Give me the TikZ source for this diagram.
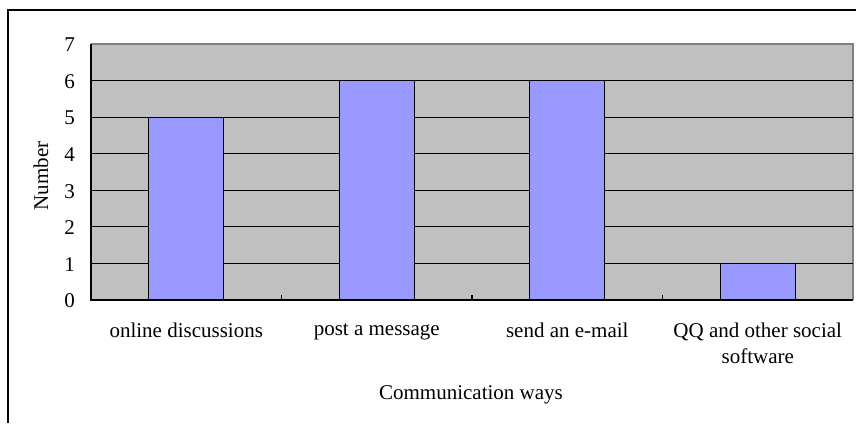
\documentclass[tikz,border=0pt]{standalone}
\usepackage{fontspec}
\setmainfont{Liberation Serif}
\usepackage{tikz}
\usetikzlibrary{positioning}
\definecolor{plotgray}{RGB}{192,192,192}
\definecolor{barblue}{RGB}{153,153,255}
\definecolor{edgegray}{RGB}{128,128,128}
\begin{document}
\begin{tikzpicture}[
            x=1pt, y=-1pt,
            every node/.style={font=\fontsize{21}{26}\selectfont, inner sep=0pt},
            bar/.style={draw=black, fill=barblue, line width=1.2pt},
            gridline/.style={draw=black, line width=1.2pt},
            axisline/.style={draw=black, line width=1.5pt}
        ]
            \useasboundingbox (0,0) rectangle (856,423);
            \draw[line width=1.5pt] (8,423) -- (8,10) -- (856,10);
            % plot area
            \fill[plotgray] (91,44) rectangle (853,300);
            \draw[edgegray, line width=1.2pt] (91,44) -- (853,44) -- (853,300);
            \foreach \v in {1,...,6}
                \draw[gridline] (91,{300-36.57*\v}) -- (853,{300-36.57*\v});
            \foreach \v [count=\i] in {5,6,6,1}
                \draw[bar] ({91+190.5*(\i-0.5)-37.5},300) rectangle ++(75,{-36.57*\v});
            \draw[axisline] (91,44) -- (91,300) -- (853,300);
            \foreach \i in {1,2,3}
                \draw[line width=1.2pt] ({91+190.5*\i},300) -- ++(0,-5);
            % labels
            \foreach \v in {0,...,7}
                \node[anchor=east] (ylab\v) at (75,{301-36.57*\v}) {\v};
            \node[rotate=90] (ytitle) at (41,176) {Number};
            \node[anchor=north] (cat1) at (186.25,323) {online discussions};
            \node[anchor=north] (cat2) at (376.75,323) {post a message};
            \node[anchor=north] (cat3) at (567.25,323) {send an e-mail};
            \node[anchor=north, align=center] (cat4) at (757.75,323) {QQ and other social\\software};
            \node[anchor=base] (xtitle) at (471,399) {Communication ways};
        \end{tikzpicture}
\end{document}
